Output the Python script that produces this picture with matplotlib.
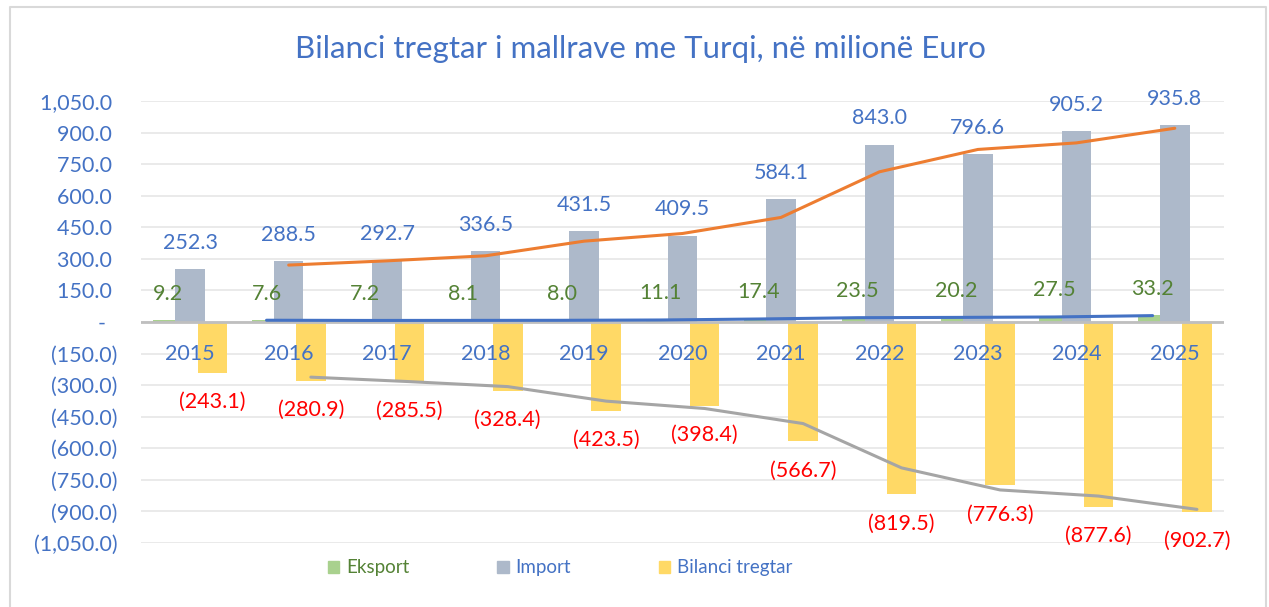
"""
plot.py
Trade balance of goods with Turkey (million Euro), grouped bars + moving averages.
"""

import numpy as np
import pandas as pd
import matplotlib
matplotlib.use("Agg")
import matplotlib.pyplot as plt
from matplotlib.patches import Patch
from matplotlib.lines import Line2D
from matplotlib.ticker import FuncFormatter


# ──────────────────────────────────────────────────────────────────────────────
# Data
# ──────────────────────────────────────────────────────────────────────────────

years   = ["2015", "2016", "2017", "2018", "2019", "2020",
           "2021", "2022", "2023", "2024", "2025"]
eksport = [9.2, 7.6, 7.2, 8.1, 8.0, 11.1, 17.4, 23.5, 20.2, 27.5, 33.2]
importi = [252.3, 288.5, 292.7, 336.5, 431.5, 409.5,
           584.1, 843.0, 796.6, 905.2, 935.8]
bilanci = [-243.1, -280.9, -285.5, -328.4, -423.5, -398.4,
           -566.7, -819.5, -776.3, -877.6, -902.7]

series_names = ["Eksport", "Import", "Bilanci tregtar"]
title = "Bilanci tregtar i mallrave me Turqi, në milionë Euro"

# ──────────────────────────────────────────────────────────────────────────────
# Style
# ──────────────────────────────────────────────────────────────────────────────

BLUE   = "#4472C4"
GREEN  = "#548235"
RED    = "#FF0000"
C_EXP  = "#A9D18E"
C_IMP  = "#ADB9CA"
C_BAL  = "#FFD966"
FS     = 15.5

plt.rcParams["font.family"] = ["Lato", "DejaVu Sans"]


def fmt_value(v, pos=None):
    if abs(v) < 1e-9:
        return "-  "
    s = f"{abs(v):,.1f}"
    return f"({s})" if v < 0 else s + " "


def label_bars(ax, xs, vals, color, dy):
    for x, v in zip(xs, vals):
        ax.annotate(fmt_value(v).strip(), (x, v), xytext=(0, dy),
                    textcoords="offset points", ha="center", va="center",
                    color=color, fontsize=FS, annotation_clip=False)


# ──────────────────────────────────────────────────────────────────────────────
# Plot
# ──────────────────────────────────────────────────────────────────────────────

fig = plt.figure(figsize=(12.69, 6.07), dpi=100)
ax  = fig.add_axes([141 / 1269, 1 - 543 / 607, 1083 / 1269, 442 / 607])

x   = np.arange(len(years))
off = 0.225
w   = 0.30

ax.bar(x - off, eksport, w, color=C_EXP, zorder=2)
ax.bar(x,       importi, w, color=C_IMP, zorder=2)
ax.bar(x + off, bilanci, w, color=C_BAL, zorder=2)

# 2-period moving average trendlines (as in the Excel chart)
ma_exp = pd.Series(eksport).rolling(2).mean()
ma_imp = pd.Series(importi).rolling(2).mean()
ma_bal = pd.Series(bilanci).rolling(2).mean()
ax.plot(x - off, ma_exp, color=BLUE,      lw=2.2, zorder=4, solid_capstyle="round")
ax.plot(x,       ma_imp, color="#ED7D31", lw=2.2, zorder=4, solid_capstyle="round")
ax.plot(x + off, ma_bal, color="#A5A5A5", lw=2.2, zorder=4, solid_capstyle="round")

# data labels
label_bars(ax, x - off, eksport, GREEN, 19)
label_bars(ax, x,       importi, BLUE,  19)
label_bars(ax, x + off, bilanci, RED,  -21)

# category labels sit below the zero line
for xi, yr in zip(x, years):
    ax.annotate(yr, (xi, 0), xytext=(0, -23), textcoords="offset points",
                ha="center", va="center", color=BLUE, fontsize=FS)

ax.axhline(0, color="#BFBFBF", lw=2, zorder=3)

ax.set_xlim(-0.5, len(years) - 0.5)
ax.set_ylim(-1050, 1050)
ax.set_yticks(np.arange(-1050, 1051, 150))
ax.yaxis.set_major_formatter(FuncFormatter(fmt_value))
ax.tick_params(axis="y", length=0, pad=17, labelsize=FS, labelcolor=BLUE)
ax.set_xticks([])
ax.grid(axis="y", color="#E6E6E6", lw=1.2, zorder=0)
for s in ax.spines.values():
    s.set_visible(False)

fig.text(640 / 1269, 1 - 49 / 607, title, ha="center", va="center",
         color=BLUE, fontsize=22.5)

# legend
handles = [Patch(color=c) for c in (C_EXP, C_IMP, C_BAL)]
leg = fig.legend(handles, series_names, loc="center", ncol=3,
                 bbox_to_anchor=(560 / 1269, 1 - 568 / 607), frameon=False,
                 fontsize=13.5, handlelength=0.6, handleheight=0.6,
                 handletextpad=0.35, columnspacing=4.7,
                 labelcolor=[GREEN, BLUE, BLUE])

# outer chart border (bottom edge is cut off in the source)
fig.add_artist(Line2D([10 / 1269, 10 / 1269, 1266 / 1269, 1266 / 1269],
                      [0, 1 - 7 / 607, 1 - 7 / 607, 0],
                      transform=fig.transFigure, color="#D9D9D9", lw=1.5))

fig.savefig("out.png", dpi=100)
